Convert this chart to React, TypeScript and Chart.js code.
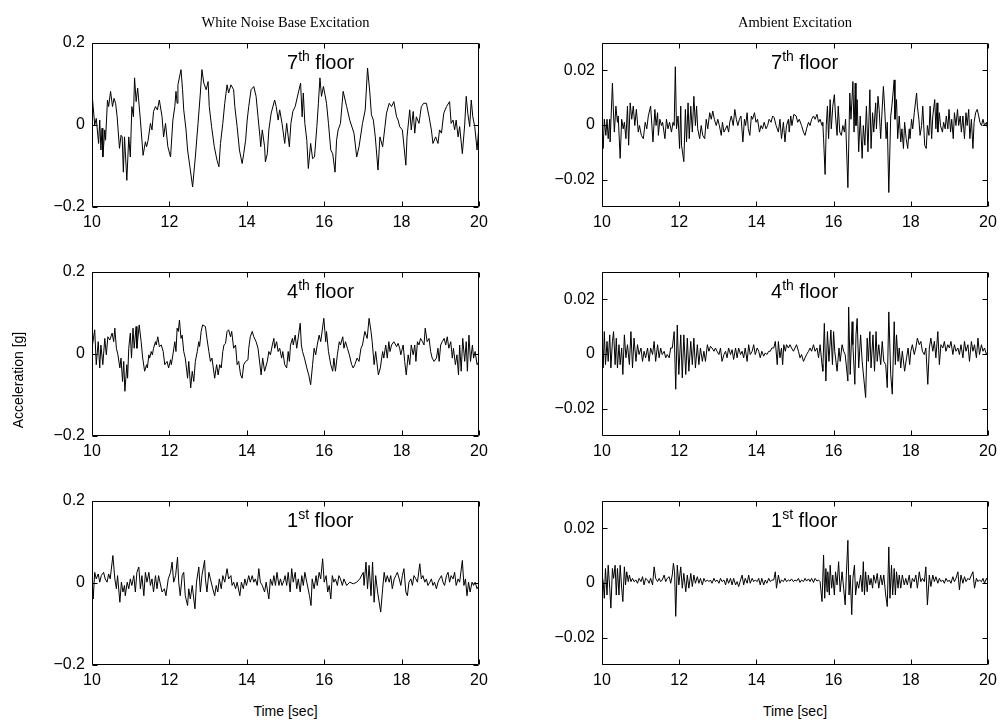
import React, { useEffect, useRef } from 'react';
import { Chart, registerables } from 'chart.js';

Chart.register(...registerables);

// ---------- data (time [sec], acceleration [g]) ----------
const whiteNoise7th: [number, number][] = [
  [10.00,0.078],[10.07,0],[10.11,0.016],[10.17,-0.045],[10.20,0.012],[10.23,-0.061],[10.26,-0.008],[10.28,-0.078],[10.33,-0.012],[10.35,-0.037],
  [10.40,0.061],[10.43,0.045],[10.48,0.082],[10.53,0.045],[10.57,0.065],[10.61,0.053],[10.65,0.020],[10.71,-0.057],[10.75,-0.025],[10.78,-0.029],
  [10.81,-0.115],[10.84,-0.029],[10.90,-0.135],[10.95,-0.029],[10.99,-0.078],[11.03,0.045],[11.07,0.020],[11.10,0.115],[11.14,0.057],[11.18,0.090],
  [11.25,0.012],[11.32,-0.074],[11.38,-0.041],[11.41,-0.053],[11.45,-0.037],[11.51,0.004],[11.55,-0.012],[11.59,0.033],[11.64,0.045],[11.69,0.037],
  [11.74,0.061],[11.81,0.020],[11.85,-0.029],[11.90,0.004],[11.96,-0.053],[12.03,-0.078],[12.09,0.012],[12.14,0.045],[12.17,0.082],[12.20,0.053],
  [12.22,0.098],[12.30,0.135],[12.34,0.086],[12.37,0.037],[12.43,-0.012],[12.47,-0.061],[12.53,-0.102],[12.60,-0.151],[12.67,-0.078],[12.74,0.004],
  [12.80,0.078],[12.84,0.135],[12.89,0.102],[12.95,0.086],[13.00,0.106],[13.03,0.045],[13.09,-0.004],[13.16,-0.053],[13.23,-0.086],[13.28,-0.102],
  [13.32,-0.045],[13.38,0.004],[13.43,0.053],[13.49,0.098],[13.53,0.078],[13.59,0.098],[13.66,0.086],[13.69,0.045],[13.75,-0.004],[13.81,-0.061],
  [13.88,-0.094],[13.92,-0.070],[13.97,-0.037],[14.01,0.012],[14.05,0.045],[14.11,0.086],[14.18,0.094],[14.24,0.070],[14.29,0.020],[14.34,-0.029],
  [14.36,-0.053],[14.40,-0.012],[14.46,-0.053],[14.48,-0.090],[14.53,-0.070],[14.57,-0.012],[14.63,0.029],[14.72,0.061],[14.76,0.045],[14.81,0.012],
  [14.85,0.037],[14.91,0.004],[14.98,-0.045],[15.03,0.004],[15.10,-0.053],[15.14,0.004],[15.19,0.033],[15.25,0.045],[15.33,0.078],[15.39,0.102],
  [15.43,0.020],[15.46,0.078],[15.50,0.004],[15.55,-0.037],[15.59,-0.106],[15.65,-0.045],[15.70,-0.082],[15.75,-0.078],[15.81,-0.004],[15.85,0.053],
  [15.89,0.115],[15.93,0.070],[15.98,0.094],[16.02,0.074],[16.06,0.053],[16.11,0.004],[16.17,-0.061],[16.22,-0.070],[16.28,-0.115],[16.32,-0.037],
  [16.36,-0.012],[16.42,0.004],[16.49,0.082],[16.58,0.045],[16.66,0.012],[16.77,-0.020],[16.84,-0.078],[16.90,-0.053],[16.99,0.004],[17.06,0.037],
  [17.12,0.139],[17.18,0.078],[17.22,0.025],[17.27,0.012],[17.32,-0.029],[17.39,-0.110],[17.44,-0.029],[17.51,-0.053],[17.57,-0.004],[17.61,0.029],
  [17.68,0.053],[17.74,0.045],[17.80,0.057],[17.87,0.020],[17.91,0.012],[17.95,-0.004],[18.02,-0.012],[18.11,-0.098],[18.14,-0.029],[18.21,0.037],
  [18.25,-0.012],[18.30,0.033],[18.34,-0.020],[18.38,0.020],[18.45,0.004],[18.51,0.045],[18.57,0.053],[18.64,0.053],[18.71,0.020],[18.77,-0.012],
  [18.81,-0.045],[18.88,-0.029],[18.94,-0.045],[18.98,-0.012],[19.03,-0.020],[19.09,0.029],[19.16,0.045],[19.24,0.057],[19.28,0.004],[19.33,0.012],
  [19.37,-0.012],[19.41,0.012],[19.46,-0.029],[19.50,-0.004],[19.57,-0.070],[19.63,0],[19.67,0.070],[19.71,0.029],[19.76,-0.004],[19.80,0.061],
  [19.84,0.020],[19.89,-0.004],[19.95,-0.061],[19.99,-0.012],[20.00,-0.070],
];

const whiteNoise4th: [number, number][] = [
  [10.00,0.014],[10.07,0.059],[10.11,-0.026],[10.16,0.030],[10.20,-0.034],[10.23,0.022],[10.28,-0.026],[10.33,0.038],[10.37,-0.002],[10.41,0.042],
  [10.46,0.034],[10.52,0.051],[10.56,0.030],[10.59,0.063],[10.63,0.014],[10.67,-0.002],[10.72,-0.034],[10.75,-0.010],[10.79,-0.067],[10.82,-0.018],
  [10.85,-0.091],[10.90,-0.026],[10.92,-0.059],[10.95,0.014],[10.99,0.051],[11.02,-0.010],[11.06,0.063],[11.09,0.014],[11.14,0.067],[11.16,0.014],
  [11.22,0.071],[11.27,0.030],[11.31,-0.010],[11.36,-0.042],[11.41,-0.026],[11.43,-0.034],[11.47,-0.002],[11.49,-0.010],[11.53,0.006],[11.56,-0.002],
  [11.59,0.014],[11.64,0.030],[11.66,0.022],[11.70,0.042],[11.74,0.018],[11.79,0.022],[11.84,0.006],[11.88,-0.026],[11.94,-0.018],[11.98,-0.034],
  [12.03,-0.014],[12.05,-0.026],[12.09,-0.002],[12.14,0.030],[12.17,0.006],[12.20,0.063],[12.23,0.055],[12.26,0.083],[12.30,0.038],[12.33,0.046],
  [12.37,0.006],[12.41,-0.010],[12.47,-0.059],[12.50,-0.018],[12.55,-0.083],[12.59,-0.042],[12.63,-0.067],[12.67,-0.018],[12.72,0.006],[12.76,0.030],
  [12.78,0.018],[12.82,0.055],[12.86,0.071],[12.93,0.067],[12.97,0.038],[13.02,0.006],[13.06,-0.018],[13.10,-0.010],[13.17,-0.059],[13.22,-0.026],
  [13.26,-0.051],[13.30,-0.026],[13.34,-0.034],[13.38,0.006],[13.41,0.022],[13.45,0.026],[13.49,0.055],[13.53,0.059],[13.58,0.042],[13.61,0.055],
  [13.66,0.014],[13.71,0.022],[13.75,-0.026],[13.79,-0.018],[13.84,-0.051],[13.88,-0.059],[13.92,-0.026],[13.97,-0.018],[14.03,-0.014],[14.05,0.014],
  [14.09,0.042],[14.14,0.055],[14.18,0.042],[14.24,0.030],[14.29,0.014],[14.37,-0.051],[14.41,-0.010],[14.46,-0.042],[14.53,-0.018],[14.57,0.006],
  [14.61,-0.002],[14.66,0.022],[14.70,0.038],[14.72,0.014],[14.77,0.030],[14.81,0.006],[14.85,0.014],[14.90,-0.010],[14.93,0.006],[14.98,-0.026],
  [15.03,-0.034],[15.07,0.006],[15.10,-0.018],[15.13,0.022],[15.18,0.038],[15.20,0.022],[15.25,0.046],[15.29,0.014],[15.38,0.075],[15.41,0.022],
  [15.44,0.006],[15.49,-0.010],[15.55,-0.034],[15.60,-0.051],[15.65,-0.075],[15.70,-0.026],[15.74,0.014],[15.78,-0.002],[15.82,0.022],[15.87,0.046],
  [15.91,0.030],[15.99,0.087],[16.04,0.030],[16.06,0.055],[16.11,0.006],[16.17,-0.026],[16.22,-0.042],[16.25,-0.010],[16.29,-0.042],[16.34,-0.002],
  [16.39,0.030],[16.42,0.022],[16.48,0.042],[16.51,0.014],[16.55,0.030],[16.60,0.014],[16.65,-0.002],[16.71,-0.026],[16.75,-0.034],[16.79,-0.026],
  [16.85,-0.010],[16.90,-0.018],[16.95,0.014],[16.99,0.022],[17.05,0.055],[17.11,0.038],[17.16,0.087],[17.21,0.055],[17.24,0.030],[17.29,-0.026],
  [17.33,0.006],[17.40,-0.051],[17.45,-0.034],[17.51,0.006],[17.54,-0.010],[17.59,0.022],[17.63,-0.010],[17.67,0.030],[17.70,0.006],[17.74,0.022],
  [17.80,0.030],[17.87,0.018],[17.91,0.026],[17.95,0.014],[17.98,-0.002],[18.04,0.022],[18.08,-0.018],[18.12,-0.051],[18.17,-0.002],[18.21,-0.026],
  [18.25,0.022],[18.30,-0.002],[18.34,0.022],[18.37,-0.018],[18.41,0.030],[18.45,0.022],[18.49,0.038],[18.54,0.030],[18.58,0.022],[18.61,0.063],
  [18.66,0.030],[18.71,0.038],[18.75,0.006],[18.79,-0.010],[18.84,-0.018],[18.90,-0.010],[18.94,0.014],[18.97,-0.018],[19.01,0.022],[19.05,0.030],
  [19.10,0.038],[19.14,0.022],[19.18,0.042],[19.22,0.014],[19.27,0.030],[19.31,-0.010],[19.34,0.014],[19.39,-0.026],[19.43,-0.002],[19.47,-0.051],
  [19.50,0.022],[19.54,-0.042],[19.58,0.038],[19.63,-0.018],[19.67,0.030],[19.70,-0.042],[19.74,0.046],[19.78,-0.018],[19.83,0.022],[19.86,-0.010],
  [19.90,0.006],[19.95,-0.026],[20.00,-0.018],
];

const whiteNoise1st: [number, number][] = [
  [10.00,0.010],[10.03,-0.039],[10.07,0.026],[10.11,0.010],[10.16,0.022],[10.20,0.002],[10.24,0.018],[10.30,0.026],[10.34,0.010],[10.39,0.002],
  [10.43,0.022],[10.47,0.010],[10.54,0.067],[10.59,0.010],[10.63,-0.014],[10.66,0.018],[10.72,-0.047],[10.76,0.002],[10.80,-0.022],[10.84,-0.006],
  [10.86,-0.031],[10.91,0.002],[10.95,-0.014],[10.99,0.010],[11.03,-0.006],[11.08,0.018],[11.12,-0.022],[11.16,0.026],[11.21,0.039],[11.25,-0.014],
  [11.29,0.018],[11.34,-0.031],[11.38,0.026],[11.42,0.002],[11.47,0.026],[11.51,-0.006],[11.55,0.010],[11.59,-0.022],[11.64,0.018],[11.68,-0.014],
  [11.72,0.018],[11.81,-0.022],[11.87,-0.014],[11.91,-0.031],[11.97,0.010],[12.03,0.026],[12.07,0.051],[12.11,0.002],[12.16,0.018],[12.21,0.063],
  [12.24,0.002],[12.28,-0.031],[12.33,0.018],[12.37,0.026],[12.41,-0.031],[12.47,-0.055],[12.50,-0.014],[12.54,-0.039],[12.59,-0.006],[12.66,-0.063],
  [12.70,0.002],[12.76,0.039],[12.80,-0.022],[12.84,0.018],[12.91,0.055],[12.93,0.010],[12.97,-0.022],[13.02,0.026],[13.06,0.010],[13.12,-0.014],
  [13.17,-0.031],[13.21,-0.006],[13.25,-0.022],[13.29,0.010],[13.34,-0.014],[13.38,0.018],[13.43,0.002],[13.49,0.035],[13.53,0.010],[13.59,0.018],
  [13.62,-0.006],[13.66,0.002],[13.71,-0.014],[13.75,0.002],[13.82,-0.031],[13.86,0.002],[13.91,-0.014],[13.95,0.010],[13.99,-0.006],[14.05,0.018],
  [14.09,0.002],[14.14,0.018],[14.18,0.002],[14.22,0.010],[14.27,-0.006],[14.31,0.035],[14.35,0.002],[14.40,-0.006],[14.46,-0.022],[14.50,0.002],
  [14.57,-0.039],[14.61,0.010],[14.66,-0.006],[14.70,0.018],[14.74,-0.006],[14.78,0.026],[14.83,-0.006],[14.87,0.010],[14.91,-0.006],[14.96,0.006],
  [14.99,0.018],[15.03,-0.006],[15.07,0.026],[15.12,-0.022],[15.16,0.035],[15.20,0.002],[15.25,0.026],[15.29,-0.014],[15.33,0.010],[15.38,-0.022],
  [15.42,0.018],[15.46,-0.006],[15.50,0.026],[15.55,0.002],[15.62,-0.031],[15.66,-0.055],[15.69,0.010],[15.74,-0.014],[15.79,0.018],[15.82,-0.006],
  [15.87,0.026],[15.91,0.010],[15.96,0.059],[16.00,0.002],[16.05,0.018],[16.09,-0.022],[16.13,-0.006],[16.17,-0.039],[16.21,0.018],[16.25,0.002],
  [16.29,0.010],[16.34,-0.006],[16.38,0.018],[16.42,0.010],[16.47,-0.006],[16.51,0.010],[16.58,-0.006],[16.66,0.002],[16.75,-0.002],[16.84,0.002],
  [16.92,0.010],[17.01,0.026],[17.03,-0.006],[17.08,0.051],[17.12,-0.014],[17.16,0.043],[17.21,-0.031],[17.25,0.051],[17.29,-0.047],[17.33,0.018],
  [17.38,-0.022],[17.46,-0.071],[17.51,-0.014],[17.55,0.026],[17.59,0.002],[17.63,0.018],[17.68,0.002],[17.72,0.018],[17.76,-0.014],[17.81,0.010],
  [17.85,0.018],[17.89,0.026],[17.94,0.010],[17.98,-0.006],[18.02,0.018],[18.06,0.035],[18.11,-0.022],[18.15,-0.031],[18.19,0.002],[18.24,0.010],
  [18.28,-0.006],[18.32,0.018],[18.37,0.010],[18.41,0.002],[18.47,0.047],[18.51,0.010],[18.55,0.018],[18.60,0.002],[18.64,0.010],[18.68,-0.006],
  [18.73,0.002],[18.77,0.010],[18.81,-0.006],[18.85,0.002],[18.90,-0.014],[18.94,0.002],[18.98,0.010],[19.03,0.018],[19.07,0.002],[19.11,-0.006],
  [19.16,0.018],[19.20,0.026],[19.24,0.002],[19.28,0.018],[19.33,0.010],[19.37,0.026],[19.41,-0.006],[19.46,0.010],[19.50,0.002],[19.57,0.055],
  [19.61,-0.006],[19.65,0.010],[19.69,-0.031],[19.73,0.002],[19.77,-0.022],[19.82,0.002],[19.86,-0.006],[19.90,0.002],[19.95,-0.014],[20.00,-0.006],
];

const ambient7th: [number, number][] = [
  [10.00,-0.0002],[10.03,-0.0086],[10.06,0.0021],[10.10,-0.0038],[10.13,0.0021],[10.16,-0.0050],[10.20,0.0021],[10.21,-0.0062],[10.27,0.0153],[10.30,0.0033],
  [10.32,-0.0026],[10.36,0.0069],[10.40,0.0010],[10.42,0.0033],[10.47,-0.0122],[10.51,0.0021],[10.55,-0.0014],[10.58,0.0010],[10.62,-0.0050],[10.66,0.0069],
  [10.69,-0.0074],[10.73,0.0081],[10.77,0.0021],[10.81,0.0069],[10.85,-0.0002],[10.89,0.0057],[10.94,-0.0026],[10.97,-0.0002],[11.02,-0.0038],[11.07,-0.0050],
  [11.12,0.0010],[11.16,-0.0014],[11.20,0.0033],[11.26,0.0069],[11.32,-0.0062],[11.37,0.0057],[11.40,-0.0002],[11.44,0.0045],[11.46,-0.0038],[11.50,0.0021],
  [11.54,-0.0002],[11.57,0.0010],[11.63,-0.0050],[11.67,0.0021],[11.71,-0.0014],[11.75,0.0010],[11.80,-0.0026],[11.84,0.0010],[11.87,-0.0002],[11.90,0.0213],
  [11.93,-0.0014],[11.97,0.0033],[12.01,-0.0086],[12.04,0.0069],[12.06,-0.0074],[12.12,-0.0134],[12.16,0.0057],[12.19,-0.0062],[12.23,0.0081],[12.26,-0.0050],
  [12.30,0.0069],[12.34,-0.0026],[12.38,0.0105],[12.42,-0.0002],[12.45,0.0069],[12.48,-0.0014],[12.53,-0.0050],[12.57,-0.0002],[12.61,-0.0038],[12.66,-0.0050],
  [12.70,0.0021],[12.74,-0.0014],[12.79,0.0045],[12.83,0.0021],[12.87,0.0051],[12.91,0.0021],[12.96,-0.0002],[13.00,0.0021],[13.04,-0.0002],[13.09,-0.0038],
  [13.12,0.0010],[13.16,-0.0026],[13.20,-0.0014],[13.24,-0.0002],[13.28,-0.0026],[13.31,0.0010],[13.35,0.0033],[13.40,-0.0002],[13.44,0.0057],[13.48,0.0021],
  [13.52,-0.0002],[13.56,0.0021],[13.60,0.0033],[13.65,-0.0062],[13.69,0.0021],[13.72,-0.0002],[13.76,0.0045],[13.79,-0.0014],[13.83,-0.0038],[13.87,0.0033],
  [13.90,0.0021],[13.95,0.0045],[13.99,0.0010],[14.03,0.0021],[14.08,-0.0026],[14.12,-0.0002],[14.16,-0.0014],[14.20,0.0010],[14.25,-0.0014],[14.29,-0.0002],
  [14.33,0.0021],[14.38,0.0010],[14.42,0.0033],[14.46,0.0027],[14.51,-0.0002],[14.57,-0.0026],[14.61,0.0021],[14.65,-0.0050],[14.70,0.0010],[14.74,-0.0062],
  [14.78,-0.0002],[14.83,0.0021],[14.85,-0.0026],[14.89,0.0033],[14.92,-0.0002],[14.97,0.0039],[15.03,0.0033],[15.07,0.0010],[15.11,0.0021],[15.17,-0.0002],
  [15.22,-0.0026],[15.26,-0.0038],[15.30,-0.0014],[15.35,0.0010],[15.39,-0.0002],[15.43,0.0021],[15.48,0.0033],[15.52,0.0021],[15.57,0.0039],[15.61,0.0010],
  [15.65,0.0021],[15.70,-0.0002],[15.72,0.0010],[15.74,-0.0050],[15.78,-0.0181],[15.81,-0.0002],[15.84,0.0069],[15.87,-0.0050],[15.91,0.0093],[15.94,-0.0014],
  [15.98,0.0069],[16.02,0.0111],[16.05,0.0033],[16.09,-0.0038],[16.12,0.0069],[16.16,-0.0026],[16.20,-0.0038],[16.24,-0.0002],[16.28,-0.0026],[16.31,0.0021],
  [16.37,-0.0229],[16.42,0.0117],[16.45,0.0021],[16.50,0.0159],[16.53,-0.0026],[16.56,0.0153],[16.58,-0.0002],[16.61,0.0093],[16.65,-0.0098],[16.69,0.0033],
  [16.74,-0.0122],[16.77,-0.0002],[16.81,-0.0074],[16.85,0.0069],[16.89,-0.0098],[16.94,0.0129],[16.97,-0.0086],[17.01,0.0045],[17.04,-0.0026],[17.09,0.0081],
  [17.11,-0.0014],[17.15,0.0105],[17.18,0.0057],[17.22,-0.0050],[17.24,0.0010],[17.29,0.0141],[17.32,0.0069],[17.36,-0.0050],[17.39,0.0010],[17.43,-0.0247],
  [17.48,0.0033],[17.51,0.0069],[17.57,0.0165],[17.59,0.0021],[17.63,0.0093],[17.66,-0.0050],[17.70,0.0033],[17.74,-0.0062],[17.77,-0.0014],[17.81,-0.0086],
  [17.84,0.0010],[17.88,-0.0050],[17.92,-0.0086],[17.96,-0.0014],[17.98,-0.0050],[18.02,0.0021],[18.05,-0.0014],[18.09,0.0045],[18.15,0.0117],[18.17,0.0069],
  [18.21,0.0021],[18.24,-0.0038],[18.28,-0.0002],[18.31,0.0069],[18.36,-0.0074],[18.40,-0.0086],[18.43,-0.0002],[18.47,-0.0038],[18.50,0.0069],[18.54,-0.0050],
  [18.57,0.0033],[18.62,0.0093],[18.65,-0.0014],[18.68,0.0081],[18.70,-0.0026],[18.74,0.0045],[18.77,-0.0002],[18.82,-0.0026],[18.85,0.0010],[18.89,-0.0014],
  [18.92,0.0033],[18.96,-0.0014],[18.99,0.0057],[19.03,-0.0026],[19.06,0.0021],[19.10,-0.0050],[19.13,0.0045],[19.17,-0.0002],[19.21,0.0057],[19.24,-0.0002],
  [19.28,0.0033],[19.31,-0.0026],[19.35,0.0033],[19.39,-0.0050],[19.43,0.0045],[19.46,-0.0002],[19.50,0.0057],[19.53,-0.0050],[19.57,0.0021],[19.61,-0.0086],
  [19.64,0.0010],[19.68,0.0045],[19.72,0.0057],[19.76,0.0033],[19.79,0.0010],[19.83,-0.0002],[19.87,0.0021],[19.91,-0.0002],[19.96,0.0010],[20.00,-0.0026],
];

const ambient4th: [number, number][] = [
  [10.00,0.0046],[10.03,-0.0051],[10.06,0.0082],[10.09,-0.0039],[10.13,0.0046],[10.16,-0.0027],[10.20,0.0070],[10.23,-0.0051],[10.27,0.0046],[10.30,0.0082],
  [10.34,-0.0039],[10.37,0.0058],[10.40,-0.0051],[10.44,0.0034],[10.47,-0.0039],[10.51,0.0022],[10.54,-0.0075],[10.58,0.0070],[10.62,-0.0014],[10.66,0.0034],
  [10.71,-0.0039],[10.75,0.0082],[10.79,-0.0051],[10.83,0.0058],[10.88,-0.0027],[10.92,0.0034],[10.96,-0.0002],[11.01,0.0022],[11.05,-0.0027],[11.09,0.0010],
  [11.13,-0.0014],[11.18,0.0022],[11.22,-0.0027],[11.26,0.0022],[11.31,-0.0002],[11.35,0.0046],[11.39,-0.0027],[11.44,0.0034],[11.48,-0.0014],[11.52,0.0022],
  [11.56,-0.0002],[11.61,0.0010],[11.65,-0.0014],[11.69,-0.0002],[11.74,-0.0014],[11.78,0.0022],[11.82,0.0022],[11.87,0.0082],[11.91,-0.0129],[11.95,0.0106],
  [11.99,-0.0075],[12.04,0.0070],[12.08,-0.0087],[12.12,0.0070],[12.17,-0.0075],[12.21,0.0058],[12.25,-0.0063],[12.30,0.0046],[12.34,-0.0039],[12.38,0.0058],
  [12.42,-0.0051],[12.47,0.0034],[12.51,-0.0039],[12.55,0.0022],[12.60,-0.0027],[12.64,0.0010],[12.68,-0.0027],[12.73,0.0034],[12.77,0.0010],[12.81,0.0028],
  [12.85,0.0022],[12.90,0.0010],[12.94,0.0022],[12.98,0.0010],[13.03,-0.0002],[13.07,0.0022],[13.11,-0.0027],[13.16,-0.0002],[13.20,0.0010],[13.24,-0.0014],
  [13.28,0.0022],[13.33,-0.0002],[13.37,0.0016],[13.41,-0.0020],[13.46,0.0022],[13.50,-0.0014],[13.54,0.0022],[13.59,-0.0002],[13.63,0.0010],[13.67,-0.0014],
  [13.71,0.0022],[13.76,-0.0027],[13.80,0.0034],[13.84,-0.0002],[13.89,0.0010],[13.93,0.0034],[13.97,-0.0002],[14.02,0.0022],[14.06,0.0010],[14.10,-0.0014],
  [14.14,0.0010],[14.19,-0.0008],[14.23,0.0004],[14.27,-0.0002],[14.32,0.0010],[14.36,0.0010],[14.40,0.0022],[14.45,0.0022],[14.49,0.0046],[14.54,-0.0039],
  [14.57,0.0046],[14.61,-0.0014],[14.65,0.0022],[14.68,-0.0039],[14.71,0.0034],[14.75,0.0010],[14.78,0.0034],[14.83,0.0022],[14.87,0.0034],[14.91,0.0022],
  [14.96,0.0010],[15.00,0.0022],[15.04,0.0034],[15.09,0.0010],[15.13,-0.0014],[15.17,-0.0002],[15.22,-0.0027],[15.26,-0.0014],[15.30,-0.0002],[15.35,0.0010],
  [15.39,0.0022],[15.43,0.0010],[15.48,0.0034],[15.52,0.0010],[15.57,0.0022],[15.61,-0.0014],[15.65,0.0034],[15.70,-0.0039],[15.72,-0.0063],[15.76,0.0112],
  [15.80,-0.0099],[15.84,0.0082],[15.88,-0.0027],[15.93,0.0088],[15.97,-0.0039],[16.00,0.0082],[16.03,0.0010],[16.09,-0.0063],[16.14,0.0022],[16.17,-0.0027],
  [16.22,0.0034],[16.26,0.0010],[16.30,-0.0002],[16.37,-0.0099],[16.39,0.0172],[16.43,-0.0075],[16.48,0.0118],[16.50,0.0034],[16.55,-0.0111],[16.58,0.0070],
  [16.61,0.0130],[16.65,-0.0051],[16.70,0.0070],[16.74,-0.0027],[16.83,-0.0159],[16.87,0.0058],[16.90,-0.0027],[16.94,0.0082],[16.97,-0.0051],[17.02,0.0070],
  [17.06,-0.0063],[17.10,0.0082],[17.13,-0.0027],[17.17,0.0034],[17.22,-0.0039],[17.26,0.0046],[17.30,-0.0027],[17.35,-0.0039],[17.39,-0.0123],[17.43,0.0154],
  [17.48,-0.0075],[17.52,-0.0147],[17.57,0.0118],[17.60,-0.0039],[17.63,0.0070],[17.67,-0.0027],[17.70,0.0022],[17.74,-0.0051],[17.78,0.0010],[17.84,-0.0063],
  [17.89,-0.0014],[17.93,0.0022],[17.97,-0.0039],[18.00,0.0010],[18.04,0.0034],[18.09,-0.0002],[18.13,0.0022],[18.17,0.0058],[18.22,0.0034],[18.26,0.0046],
  [18.30,0.0010],[18.35,-0.0002],[18.39,0.0022],[18.44,-0.0111],[18.48,0.0022],[18.52,0.0058],[18.57,0.0010],[18.61,0.0046],[18.65,-0.0014],[18.70,0.0082],
  [18.74,-0.0039],[18.78,0.0034],[18.83,0.0022],[18.87,0.0046],[18.91,0.0010],[18.96,0.0034],[19.00,0.0022],[19.04,0.0046],[19.09,-0.0002],[19.13,0.0034],
  [19.17,0.0010],[19.22,0.0022],[19.26,-0.0002],[19.30,0.0034],[19.35,-0.0014],[19.39,0.0046],[19.43,0.0010],[19.48,0.0034],[19.52,-0.0027],[19.57,0.0046],
  [19.61,0.0010],[19.65,0.0034],[19.70,-0.0014],[19.74,0.0058],[19.78,-0.0002],[19.83,0.0034],[19.87,0.0010],[19.91,0.0022],[19.96,-0.0002],[20.00,0.0010],
];

const ambient1st: [number, number][] = [
  [10.00,0.0029],[10.03,0.0005],[10.06,-0.0056],[10.09,0.0053],[10.13,-0.0044],[10.16,0.0065],[10.20,-0.0019],[10.23,-0.0092],[10.27,0.0053],[10.30,0.0017],
  [10.34,0.0065],[10.37,-0.0044],[10.40,0.0053],[10.44,-0.0044],[10.47,0.0065],[10.51,-0.0019],[10.54,-0.0068],[10.58,0.0059],[10.61,-0.0007],[10.64,0.0041],
  [10.68,0.0005],[10.71,0.0029],[10.75,0.0005],[10.79,0.0017],[10.83,0.0005],[10.88,0.0011],[10.92,-0.0001],[10.96,0.0017],[11.01,0.0005],[11.05,0.0023],
  [11.09,-0.0007],[11.13,0.0017],[11.18,0.0011],[11.22,-0.0001],[11.26,0.0017],[11.31,-0.0007],[11.35,0.0059],[11.39,0.0017],[11.44,0.0005],[11.48,0.0017],
  [11.52,0.0005],[11.56,0.0011],[11.61,0.0029],[11.65,0.0005],[11.69,0.0017],[11.74,0.0023],[11.78,-0.0001],[11.82,0.0029],[11.85,0.0072],[11.88,0.0041],
  [11.91,-0.0122],[11.95,0.0065],[11.99,-0.0007],[12.04,0.0059],[12.08,-0.0019],[12.12,0.0035],[12.17,-0.0032],[12.21,0.0029],[12.25,-0.0019],[12.30,0.0035],
  [12.34,-0.0013],[12.38,0.0029],[12.42,-0.0001],[12.47,0.0023],[12.51,-0.0001],[12.55,0.0017],[12.60,-0.0007],[12.64,0.0017],[12.68,0.0005],[12.73,0.0011],
  [12.77,0.0005],[12.81,0.0011],[12.85,-0.0001],[12.90,0.0017],[12.94,0.0005],[12.98,0.0011],[13.03,-0.0001],[13.07,0.0017],[13.11,0.0005],[13.16,0.0011],
  [13.20,-0.0007],[13.24,0.0017],[13.28,-0.0001],[13.33,0.0017],[13.37,-0.0007],[13.41,0.0017],[13.46,-0.0007],[13.50,0.0005],[13.54,-0.0013],[13.59,0.0011],
  [13.63,0.0029],[13.67,-0.0007],[13.71,0.0017],[13.76,-0.0001],[13.80,0.0029],[13.84,-0.0001],[13.89,0.0017],[13.93,0.0005],[13.97,0.0011],[14.02,0.0005],
  [14.06,0.0017],[14.10,-0.0007],[14.14,0.0017],[14.19,-0.0007],[14.23,0.0011],[14.27,-0.0001],[14.32,0.0017],[14.36,0.0005],[14.40,0.0011],[14.45,0.0011],
  [14.49,0.0041],[14.52,-0.0019],[14.57,0.0029],[14.61,-0.0001],[14.65,0.0011],[14.70,0.0005],[14.74,0.0017],[14.78,0.0005],[14.83,0.0011],[14.87,0.0007],
  [14.91,0.0015],[14.96,0.0005],[15.00,0.0011],[15.04,0.0007],[15.09,0.0017],[15.13,0.0002],[15.17,0.0011],[15.22,0.0005],[15.26,0.0017],[15.30,0.0007],
  [15.35,0.0015],[15.39,0.0005],[15.43,0.0017],[15.48,0.0002],[15.52,0.0017],[15.57,0.0007],[15.61,0.0011],[15.65,0.0005],[15.70,-0.0068],[15.74,0.0102],
  [15.77,-0.0056],[15.80,0.0053],[15.83,-0.0032],[15.85,0.0041],[15.89,-0.0044],[15.91,0.0065],[15.95,-0.0019],[15.98,0.0029],[16.02,-0.0044],[16.05,0.0041],
  [16.09,-0.0007],[16.13,0.0078],[16.17,-0.0032],[16.22,0.0041],[16.26,-0.0019],[16.30,-0.0080],[16.33,0.0029],[16.37,0.0156],[16.40,-0.0044],[16.43,0.0029],
  [16.47,-0.0116],[16.50,0.0017],[16.54,0.0065],[16.57,-0.0044],[16.61,0.0005],[16.65,-0.0019],[16.70,0.0029],[16.74,-0.0032],[16.77,0.0078],[16.80,-0.0044],
  [16.83,0.0041],[16.87,-0.0032],[16.90,0.0029],[16.94,-0.0007],[16.97,0.0017],[17.01,-0.0019],[17.04,0.0029],[17.09,-0.0001],[17.13,0.0035],[17.17,-0.0019],
  [17.22,0.0029],[17.26,-0.0007],[17.30,0.0029],[17.35,-0.0044],[17.39,-0.0086],[17.43,0.0132],[17.46,-0.0056],[17.50,0.0065],[17.53,-0.0044],[17.57,0.0053],
  [17.60,-0.0044],[17.63,0.0041],[17.67,-0.0019],[17.70,0.0029],[17.74,-0.0019],[17.78,0.0029],[17.83,-0.0007],[17.87,0.0017],[17.91,-0.0007],[17.96,0.0029],
  [18.00,-0.0019],[18.04,0.0017],[18.09,0.0005],[18.13,0.0029],[18.17,-0.0019],[18.22,0.0041],[18.26,0.0005],[18.30,0.0017],[18.35,0.0005],[18.39,0.0059],
  [18.43,-0.0080],[18.48,0.0029],[18.52,-0.0013],[18.57,0.0029],[18.61,0.0005],[18.65,0.0023],[18.70,-0.0001],[18.74,0.0017],[18.78,0.0005],[18.83,0.0011],
  [18.87,-0.0001],[18.91,0.0017],[18.96,0.0005],[19.00,0.0011],[19.04,-0.0001],[19.09,0.0023],[19.13,0.0005],[19.17,0.0017],[19.22,0.0041],[19.26,-0.0025],
  [19.30,0.0029],[19.35,-0.0001],[19.39,0.0023],[19.43,0.0005],[19.48,0.0017],[19.52,0.0011],[19.57,0.0029],[19.61,0.0041],[19.65,-0.0019],[19.70,0.0017],
  [19.74,0.0005],[19.78,0.0011],[19.83,0.0005],[19.87,0.0017],[19.91,-0.0001],[19.96,0.0017],[20.00,0.0005],
];

// ---------- axes / tick labels ----------
const timeTicks = [10, 12, 14, 16, 18, 20];
const timeTickLabels = ['10', '12', '14', '16', '18', '20'];
const whiteNoiseTicks = [-0.2, 0, 0.2];
const whiteNoiseTickLabels = ['\u22120.2', '0', '0.2'];
const ambientTicks = [-0.02, 0, 0.02];
const ambientTickLabels = ['\u22120.02', '0', '0.02'];
const columnTitles = ['White Noise Base Excitation', 'Ambient Excitation'];
const floorNames = [['7', 'th'], ['4', 'th'], ['1', 'st']];

// ---------- layout ----------
const COLS = [
  { left: 92, width: 387 },
  { left: 602, width: 386 },
];
const ROW_TOPS = [43, 272, 501];
const PLOT_H = 164;
const AX_W = 80;
const AX_H = 35;
const PAD_T = 20;
const PAD_R = 25;
const SANS = "'Liberation Sans', Arial, Helvetica, sans-serif";
const SERIF = "'Liberation Serif', 'Times New Roman', serif";

const framePlugin = {
  id: 'matlabFrame',
  afterDraw(chart: any) {
    const { ctx, chartArea } = chart;
    const { left, right, top, bottom } = chartArea;
    const xs = chart.scales.x;
    const ys = chart.scales.y;
    const tl = 5;
    ctx.save();
    ctx.strokeStyle = '#000';
    ctx.lineWidth = 1;
    const L = Math.round(left) + 0.5;
    const R = Math.round(right) - 0.5;
    const T = Math.round(top) + 0.5;
    const B = Math.round(bottom) - 0.5;
    ctx.beginPath();
    ctx.rect(L, T, R - L, B - T);
    ctx.stroke();
    ctx.beginPath();
    for (const t of xs.ticks) {
      const px = Math.round(xs.getPixelForValue(t.value)) + 0.5;
      ctx.moveTo(px, B); ctx.lineTo(px, B - tl);
      ctx.moveTo(px, T); ctx.lineTo(px, T + tl);
    }
    for (const t of ys.ticks) {
      const py = Math.round(ys.getPixelForValue(t.value)) + 0.5;
      ctx.moveTo(L, py); ctx.lineTo(L + tl, py);
      ctx.moveTo(R, py); ctx.lineTo(R - tl, py);
    }
    ctx.stroke();
    ctx.restore();
  },
};

type PanelProps = {
  series: [number, number][];
  yLim: number;
  yTicks: number[];
  yTickLabels: string[];
  col: number;
  row: number;
};

function Panel({ series, yLim, yTicks, yTickLabels, col, row }: PanelProps) {
  const ref = useRef<HTMLCanvasElement | null>(null);
  const c = COLS[col];
  const w = AX_W + c.width + PAD_R;
  const h = PAD_T + PLOT_H + AX_H;
  useEffect(() => {
    if (!ref.current) return;
    const chart = new Chart(ref.current, {
      type: 'line',
      data: {
        datasets: [
          {
            data: series.map(([x, y]) => ({ x, y })),
            borderColor: '#000',
            borderWidth: 1,
            pointRadius: 0,
            tension: 0,
            fill: false,
          },
        ],
      },
      options: {
        animation: false,
        responsive: false,
        maintainAspectRatio: false,
        devicePixelRatio: 1,
        layout: { padding: { left: 0, top: PAD_T, right: PAD_R, bottom: 0 } },
        plugins: { legend: { display: false }, tooltip: { enabled: false }, title: { display: false } },
        scales: {
          x: {
            type: 'linear',
            min: 10,
            max: 20,
            afterBuildTicks: (s: any) => { s.ticks = timeTicks.map((v) => ({ value: v })); },
            afterFit: (s: any) => { s.height = AX_H; },
            grid: { display: false, drawTicks: false },
            border: { display: false },
            ticks: {
              padding: 6,
              color: '#000',
              autoSkip: false,
              maxRotation: 0,
              font: { family: SANS, size: 16 },
              callback: (_v: any, i: number) => timeTickLabels[i],
            },
          },
          y: {
            type: 'linear',
            min: -yLim,
            max: yLim,
            afterBuildTicks: (s: any) => { s.ticks = yTicks.map((v) => ({ value: v })); },
            afterFit: (s: any) => { s.width = AX_W; },
            grid: { display: false, drawTicks: false },
            border: { display: false },
            ticks: {
              padding: 7,
              color: '#000',
              autoSkip: false,
              font: { family: SANS, size: 16 },
              callback: (_v: any, i: number) => yTickLabels[i],
            },
          },
        },
      } as any,
      plugins: [framePlugin],
    });
    return () => chart.destroy();
  }, []);
  return (
    <canvas
      ref={ref}
      width={w}
      height={h}
      style={{ position: 'absolute', left: c.left - AX_W, top: ROW_TOPS[row] - PAD_T, width: w, height: h }}
    />
  );
}

function FloorLabel({ col, row }: { col: number; row: number }) {
  const [num, suf] = floorNames[row];
  const x = COLS[col].left + (col === 0 ? 195 : 169);
  const baseline = ROW_TOPS[row] + 26;
  return (
    <div
      style={{
        position: 'absolute',
        left: x,
        top: baseline - 16.9,
        fontFamily: SANS,
        fontSize: 20,
        lineHeight: '20px',
        whiteSpace: 'nowrap',
        color: '#000',
      }}
    >
      {num}
      <span style={{ fontSize: 14, position: 'relative', top: -8 }}>{suf}</span> floor
    </div>
  );
}

export default function App() {
  const left = [whiteNoise7th, whiteNoise4th, whiteNoise1st];
  const right = [ambient7th, ambient4th, ambient1st];
  return (
    <div style={{ position: 'absolute', left: 0, top: 0, width: 1005, height: 726, background: '#fff', overflow: 'hidden' }}>
      {left.map((s, r) => (
        <Panel key={'l' + r} series={s} yLim={0.2} yTicks={whiteNoiseTicks} yTickLabels={whiteNoiseTickLabels} col={0} row={r} />
      ))}
      {right.map((s, r) => (
        <Panel key={'r' + r} series={s} yLim={0.03} yTicks={ambientTicks} yTickLabels={ambientTickLabels} col={1} row={r} />
      ))}
      {[0, 1, 2].map((r) => (
        <React.Fragment key={'f' + r}>
          <FloorLabel col={0} row={r} />
          <FloorLabel col={1} row={r} />
        </React.Fragment>
      ))}
      {COLS.map((c, i) => (
        <div
          key={'t' + i}
          style={{
            position: 'absolute', left: c.left, top: 15, width: c.width, textAlign: 'center',
            fontFamily: SERIF, fontSize: 14.5, lineHeight: '14.5px', color: '#000', whiteSpace: 'nowrap',
          }}
        >
          {columnTitles[i]}
        </div>
      ))}
      {COLS.map((c, i) => (
        <div
          key={'x' + i}
          style={{
            position: 'absolute', left: c.left, top: 704, width: c.width, textAlign: 'center',
            fontFamily: SANS, fontSize: 14, lineHeight: '14px', color: '#000', whiteSpace: 'nowrap',
          }}
        >
          Time [sec]
        </div>
      ))}
      <div
        style={{
          position: 'absolute', left: 18 - 100, top: 380 - 7, width: 200, height: 14, textAlign: 'center',
          fontFamily: SANS, fontSize: 14, lineHeight: '14px', color: '#000', whiteSpace: 'nowrap',
          transform: 'rotate(-90deg)', transformOrigin: '50% 50%',
        }}
      >
        Acceleration [g]
      </div>
    </div>
  );
}
